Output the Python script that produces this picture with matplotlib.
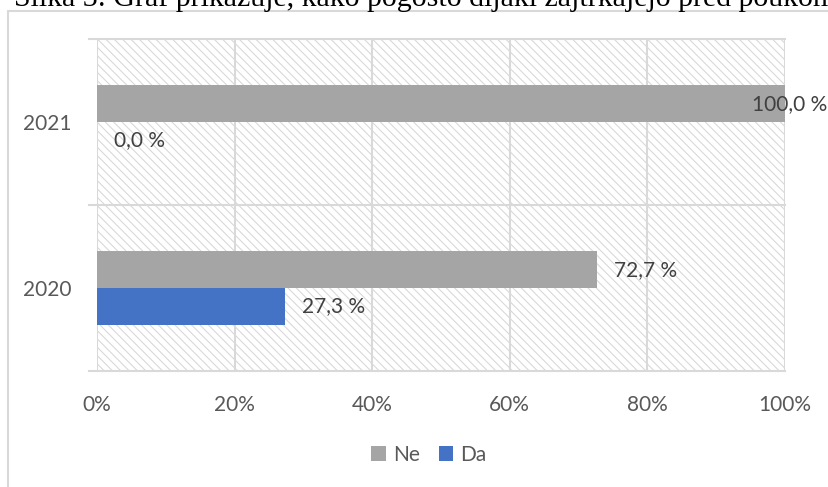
import matplotlib
matplotlib.use("Agg")
import matplotlib.pyplot as plt
from matplotlib.patches import Rectangle
from matplotlib.ticker import FuncFormatter
import matplotlib.transforms as mtransforms
import numpy as np

# Data
categories = ["2020", "2021"]
series_names = ["Ne", "Da"]
ne_values = [72.7, 100.0]
da_values = [27.3, 0.0]
xtick_values = [0, 20, 40, 60, 80, 100]
title_text = "Slika 3: Graf prikazuje, kako pogosto dijaki zajtrkajejo pred poukom"

W, H = 829, 487
fig = plt.figure(figsize=(W / 100, H / 100), dpi=100)
plt.rcParams['hatch.linewidth'] = 0.8

FONT = ['Lato', 'DejaVu Sans']
TXT = '#595959'
GRID = '#D9D9D9'
GRAY = '#A5A5A5'
BLUE = '#4472C4'
FS = 15

# outer chart border
fig.patches.append(Rectangle((8 / W, -0.02), 1.05, 1 - 11 / H + 0.02,
                             transform=fig.transFigure, facecolor='none',
                             edgecolor=GRID, lw=1.5, zorder=0))

# title (partially cut at top, as in the source image)
fig.text(14 / W, 1 - 6 / H, title_text, family=['Liberation Serif', 'DejaVu Serif'],
         fontsize=21.5, va='baseline', ha='left', color='black')

left, right, top, bottom = 97, 785, 39, 371
ax = fig.add_axes([left / W, 1 - bottom / H, (right - left) / W, (bottom - top) / H])
ax.set_xlim(0, 100)
ax.set_ylim(-0.5, 1.5)

# hatched background
ax.add_patch(Rectangle((0, 0), 1, 1, transform=ax.transAxes, facecolor='white',
                       edgecolor='#D9D9D9', hatch='\\\\\\\\', lw=0, zorder=0))

for s in ax.spines.values():
    s.set_visible(False)

# vertical gridlines
for v in xtick_values:
    ax.axvline(v, color=GRID, lw=1.5, zorder=1)
# horizontal category boundary lines with outward ticks
ext = 8 / (right - left)
for b in [-0.5, 0.5, 1.5]:
    ax.axhline(b, xmin=-ext, xmax=1, color=GRID, lw=1.5, zorder=1, clip_on=False)

y = np.arange(len(categories))
h = 0.22
ax.barh(y + h / 2, ne_values, height=h, color=GRAY, zorder=3, label=series_names[0])
ax.barh(y - h / 2, da_values, height=h, color=BLUE, zorder=3, label=series_names[1])

def fmt(v):
    return f"{v:.1f}".replace('.', ',') + " %"

off = 17 / (right - left) * 100
blend = mtransforms.blended_transform_factory(fig.transFigure, ax.transData)
for vals, dy in [(ne_values, h / 2), (da_values, -h / 2)]:
    for yi, v in zip(y, vals):
        if v + off + 7 > 100:
            fig.text(0.998, yi + dy, fmt(v), family=FONT, fontsize=FS, color='#404040',
                     ha='right', va='center', transform=blend)
        else:
            ax.text(v + off, yi + dy, fmt(v), family=FONT, fontsize=FS,
                    color='#404040', ha='left', va='center', zorder=4)

ax.set_yticks(y)
ax.set_yticklabels(categories, family=FONT, fontsize=FS, color=TXT)
ax.set_xticks(xtick_values)
ax.xaxis.set_major_formatter(FuncFormatter(lambda v, p: f"{int(v)}%"))
for lab in ax.get_xticklabels():
    lab.set_family(FONT)
    lab.set_fontsize(FS)
    lab.set_color(TXT)
ax.tick_params(axis='both', length=0)
ax.tick_params(axis='x', pad=17)
ax.tick_params(axis='y', pad=18)

handles, labels = ax.get_legend_handles_labels()
leg = fig.legend(handles, labels, loc='center', bbox_to_anchor=(429 / W, 1 - 455 / H),
                 ncol=2, frameon=False, prop={'family': FONT, 'size': FS},
                 handlelength=0.7, handleheight=0.7, handletextpad=0.35,
                 columnspacing=0.9)
for t in leg.get_texts():
    t.set_color(TXT)

fig.savefig("out.png", dpi=100)
